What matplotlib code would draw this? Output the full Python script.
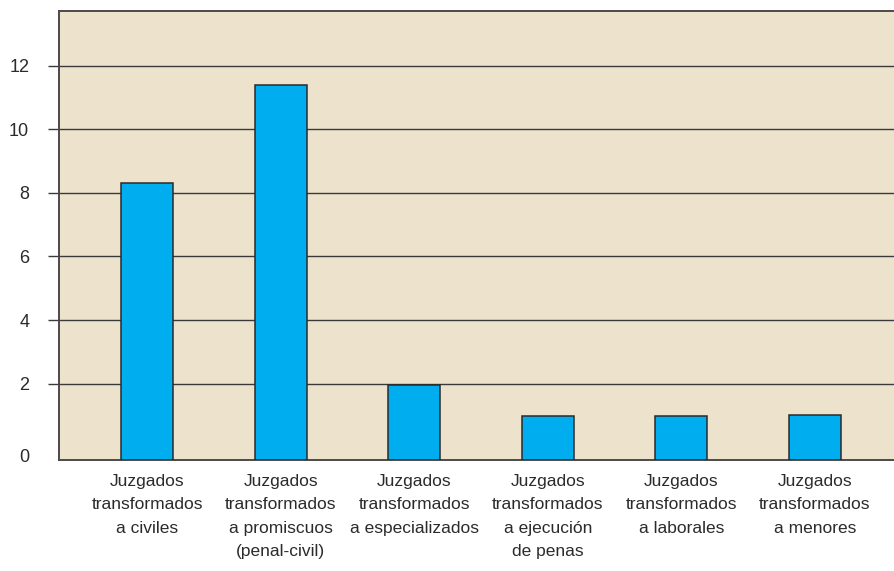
import matplotlib
matplotlib.use("Agg")
import matplotlib.pyplot as plt
from matplotlib.transforms import ScaledTranslation

plt.rcParams['font.family'] = ['Liberation Sans', 'DejaVu Sans']

categories = [
    "Juzgados\ntransformados\na civiles",
    "Juzgados\ntransformados\na promiscuos\n(penal-civil)",
    "Juzgados\ntransformados\na especializados",
    "Juzgados\ntransformados\na ejecución\nde penas",
    "Juzgados\ntransformados\na laborales",
    "Juzgados\ntransformados\na menores",
]
values = [8.3, 11.4, 1.95, 0.98, 0.98, 1.0]
y_ticks = [0, 2, 4, 6, 8, 10, 12]
y_tick_labels = ["0", "2", "4", "6", "8", "10", "12"]

baseline = -0.4
bg = "#EDE3CC"
bar_color = "#00AEEF"
dark = "#3a3a3a"
text_color = "#2b2b2b"

fig = plt.figure(figsize=(8.94, 5.71), dpi=100)
ax = fig.add_axes([59 / 894, 1 - 460 / 571, 1 - 59 / 894 + 0.01, (460 - 11) / 571])
ax.set_facecolor(bg)

x = list(range(len(categories)))
heights = [v - baseline for v in values]
ax.bar(x, heights, bottom=baseline, width=0.39, color=bar_color,
       edgecolor="#2a2a2a", linewidth=1.1, zorder=3)

ax.set_xlim(-0.66, 5.66)
ax.set_ylim(baseline, 13.72)

for t in y_ticks[1:]:
    ax.axhline(t, color=dark, linewidth=1.0, zorder=1)

ax.set_yticks(y_ticks)
ax.set_yticklabels(y_tick_labels)
ax.tick_params(axis="y", length=8, width=1.0, color=dark, pad=13.5,
               labelsize=13, labelcolor=text_color)
ax.yaxis.get_major_ticks()[0].tick1line.set_visible(False)
zero_label = ax.yaxis.get_major_ticks()[0].label1
zero_label.set_transform(zero_label.get_transform()
                         + ScaledTranslation(0, -8 / 100, fig.dpi_scale_trans))

ax.set_xticks(x)
ax.set_xticklabels(categories, linespacing=1.7)
ax.tick_params(axis="x", length=0, pad=10, labelsize=12.5, labelcolor=text_color)
for lbl in ax.get_xticklabels():
    lbl.set_verticalalignment("top")
    lbl.set_horizontalalignment("center")

for side in ["left", "top", "bottom"]:
    ax.spines[side].set_color("#4a4a4a")
    ax.spines[side].set_linewidth(1.4)
ax.spines["right"].set_visible(False)

fig.savefig("out.png", dpi=100, facecolor="white")
